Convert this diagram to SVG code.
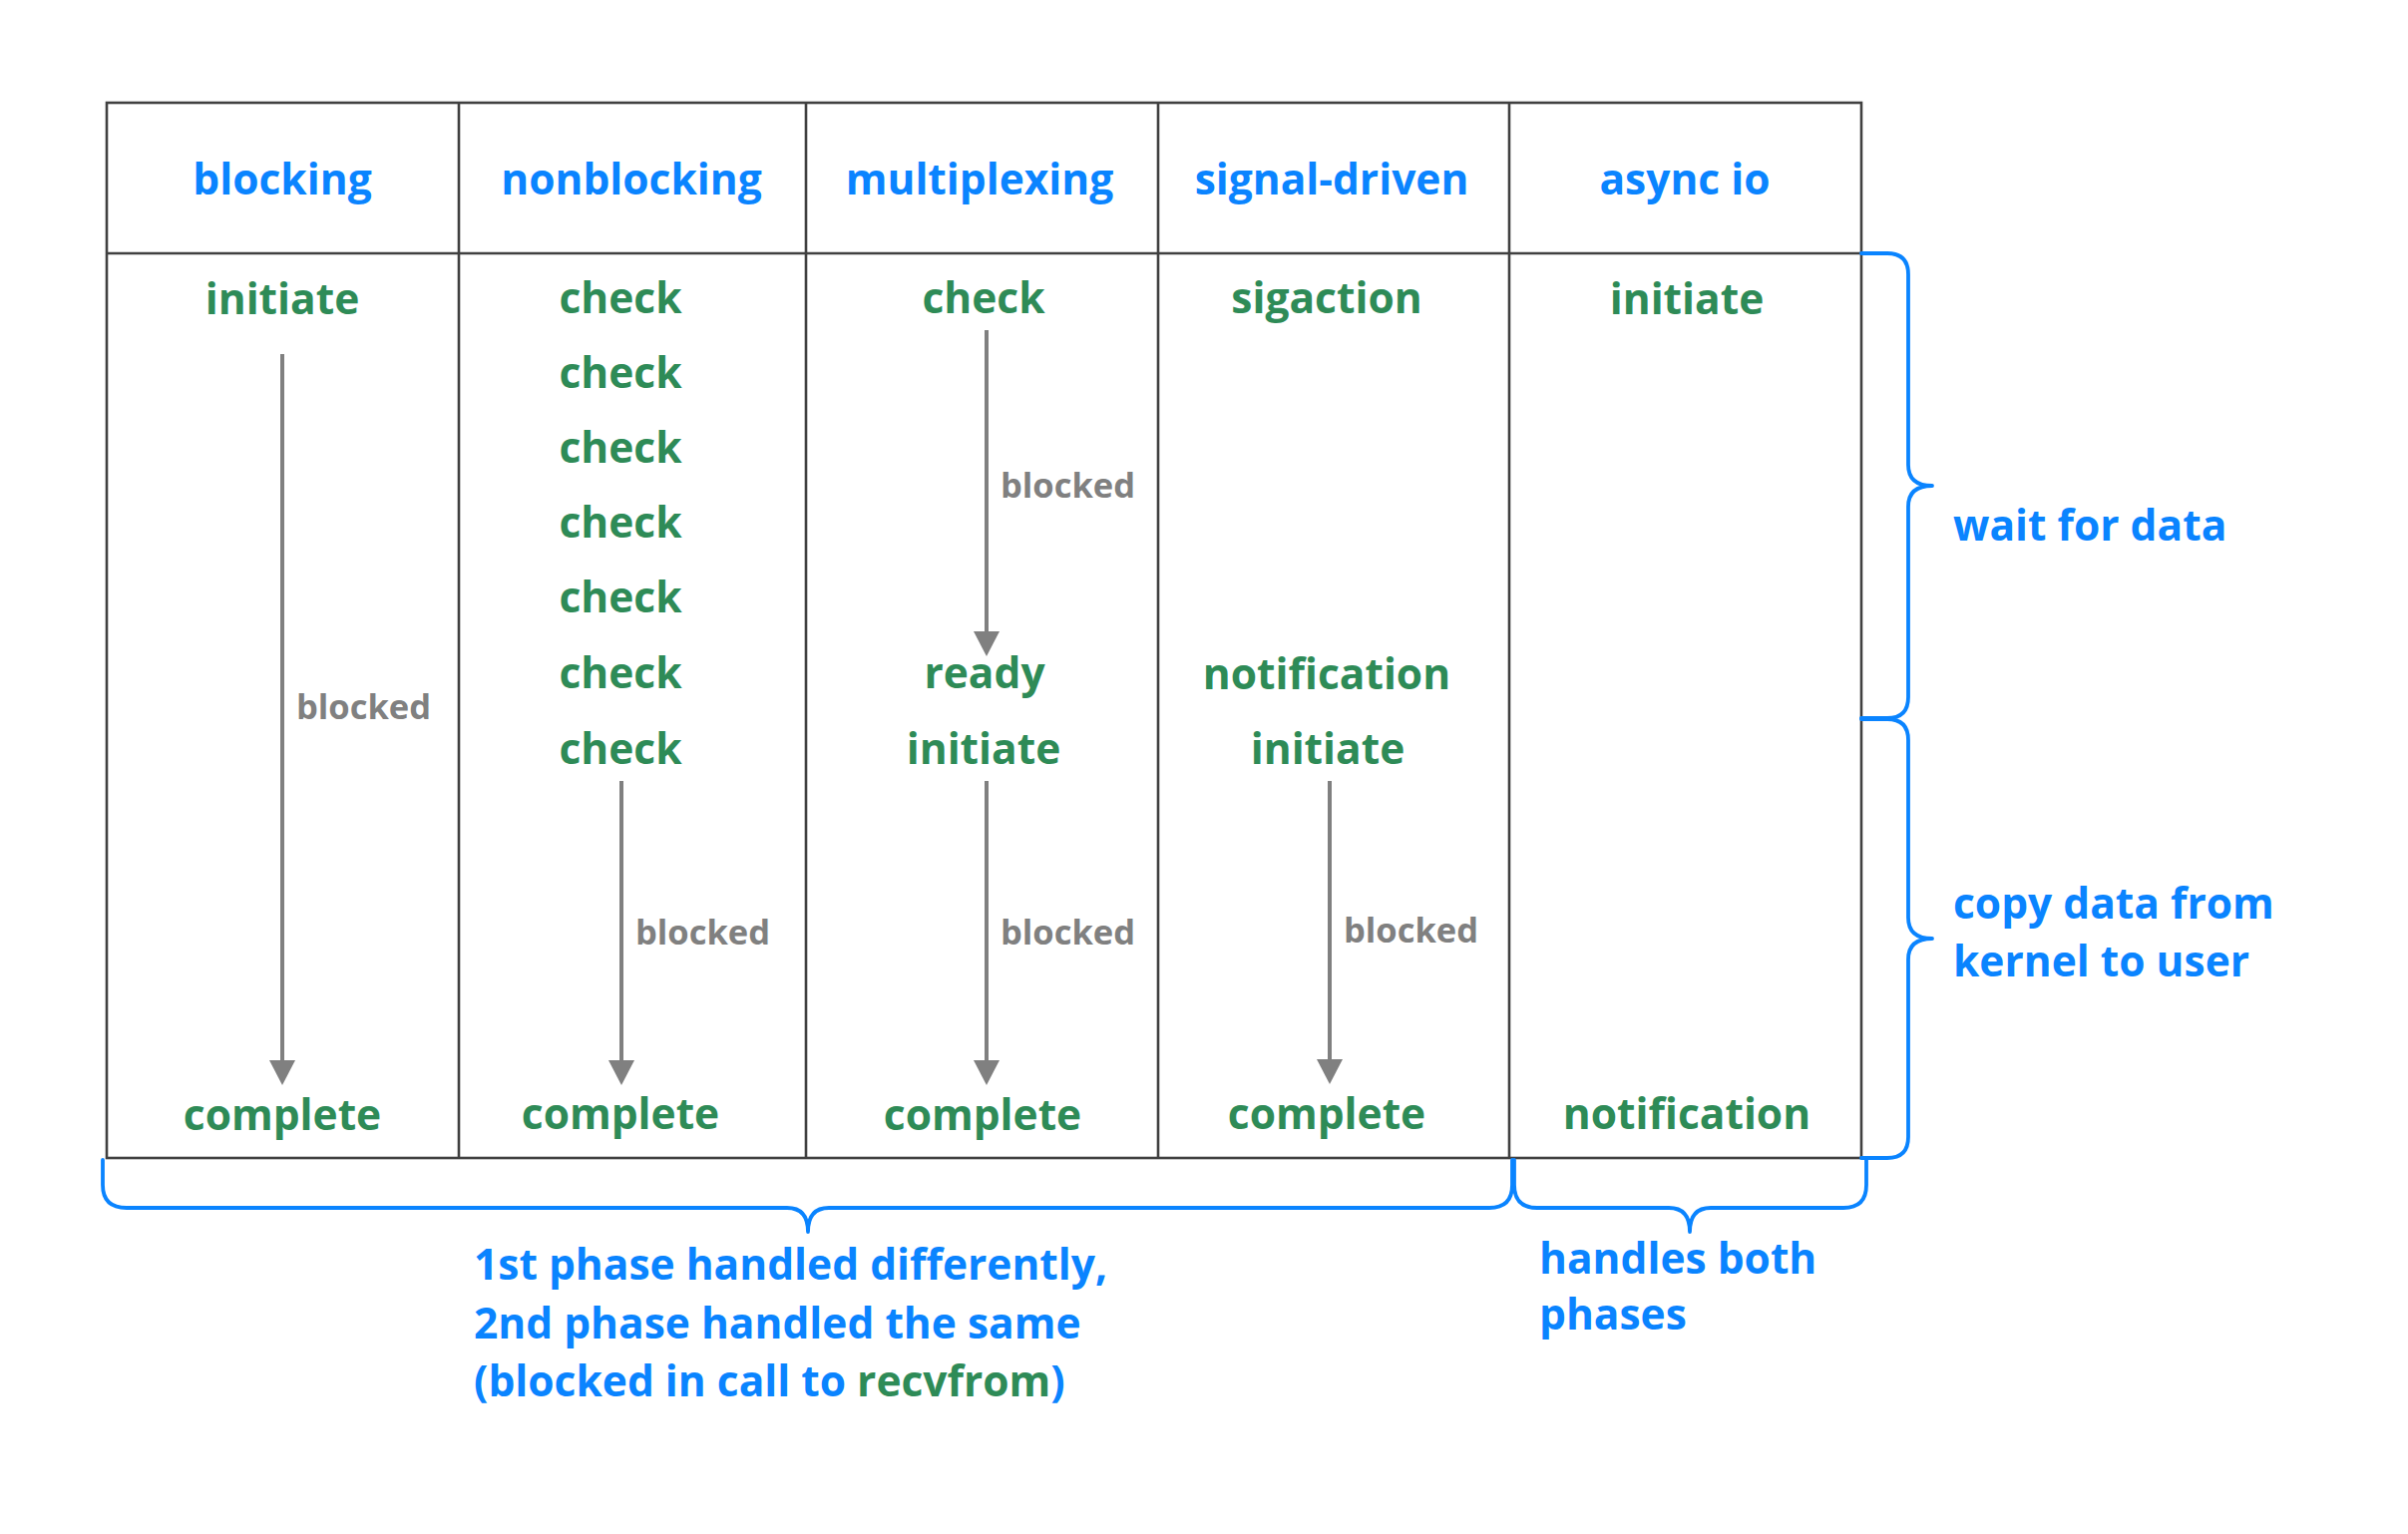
<svg xmlns="http://www.w3.org/2000/svg" width="2414" height="1538" viewBox="0 0 2414 1538">
  <style>
    text { font-family: "Open Sans", "Noto Sans", "Liberation Sans", sans-serif; font-weight: 700; }
    .hdr { fill: #0a84ff; font-size: 42.5px; text-anchor: middle; }
    .step { fill: #2e8b57; font-size: 42.5px; text-anchor: middle; }
    .blk { fill: #808080; font-size: 34.5px; }
    .note { fill: #0a84ff; font-size: 42.5px; }
    .green { fill: #2e8b57; }
    .grid { stroke: #404040; stroke-width: 2.6; fill: none; }
    .arrow { stroke: #808080; stroke-width: 4; fill: none; marker-end: url(#head); }
    .brace { stroke: #0a84ff; stroke-width: 3.8; fill: none; stroke-linecap: round; stroke-linejoin: round; }
  </style>
  <defs>
    <marker id="head" markerUnits="userSpaceOnUse" viewBox="0 0 25 26" markerWidth="25" markerHeight="26" refX="1" refY="13" orient="auto">
      <path d="M0,0 L25,13 L0,26 z" fill="#808080"/>
    </marker>
  </defs>
  <rect width="2414" height="1538" fill="#ffffff"/>

  <g id="table">
    <rect class="grid" x="107" y="103" width="1759" height="1058"/>
    <line class="grid" x1="107" y1="254" x2="1866" y2="254"/>
    <line class="grid" x1="460" y1="103" x2="460" y2="1161"/>
    <line class="grid" x1="808" y1="103" x2="808" y2="1161"/>
    <line class="grid" x1="1161" y1="103" x2="1161" y2="1161"/>
    <line class="grid" x1="1513" y1="103" x2="1513" y2="1161"/>
  </g>

  <g id="col-blocking">
    <text class="hdr" x="283" y="195">blocking</text>
    <text class="step" x="283" y="315">initiate</text>
    <text class="step" x="283" y="1133">complete</text>
    <text class="blk" x="297" y="721">blocked</text>
  </g>

  <g id="col-nonblocking">
    <text class="hdr" x="633" y="195">nonblocking</text>
    <text class="step" x="622" y="314">check</text>
    <text class="step" x="622" y="389">check</text>
    <text class="step" x="622" y="464">check</text>
    <text class="step" x="622" y="539">check</text>
    <text class="step" x="622" y="614">check</text>
    <text class="step" x="622" y="690">check</text>
    <text class="step" x="622" y="766">check</text>
    <text class="step" x="622" y="1132">complete</text>
    <text class="blk" x="637" y="947">blocked</text>
  </g>

  <g id="col-multiplexing">
    <text class="hdr" x="982" y="195">multiplexing</text>
    <text class="step" x="986" y="314">check</text>
    <text class="blk" x="1003" y="499">blocked</text>
    <text class="step" x="987" y="690">ready</text>
    <text class="step" x="986" y="766">initiate</text>
    <text class="blk" x="1003" y="947">blocked</text>
    <text class="step" x="985" y="1133">complete</text>
  </g>

  <g id="col-signal">
    <text class="hdr" x="1335" y="195">signal-driven</text>
    <text class="step" x="1330" y="314">sigaction</text>
    <text class="step" x="1330" y="691">notification</text>
    <text class="step" x="1331" y="766">initiate</text>
    <text class="blk" x="1347" y="945">blocked</text>
    <text class="step" x="1330" y="1132">complete</text>
  </g>

  <g id="col-async">
    <text class="hdr" x="1689" y="195">async io</text>
    <text class="step" x="1691" y="315">initiate</text>
    <text class="step" x="1691" y="1132">notification</text>
  </g>

  <g id="connectors">
    <line class="arrow" x1="283" y1="355" x2="283" y2="1064"/>
    <line class="arrow" x1="623" y1="783" x2="623" y2="1064"/>
    <line class="arrow" x1="989" y1="331" x2="989" y2="634"/>
    <line class="arrow" x1="989" y1="783" x2="989" y2="1064"/>
    <line class="arrow" x1="1333" y1="783" x2="1333" y2="1063"/>
  </g>

  <g id="braces">
    <path class="brace" d="M1866,254 H1892 Q1913,254 1913,275 V466 Q1913,487 1937,487 M1937,487 Q1913,487 1913,508 V699 Q1913,720 1892,720 H1866"/>
    <path class="brace" d="M1866,721 H1892 Q1913,721 1913,742 V920 Q1913,941 1937,941 M1937,941 Q1913,941 1913,962 V1140 Q1913,1161 1892,1161 H1866"/>
    <path class="brace" d="M103,1163 V1188 Q103,1211 127,1211 H789 Q810,1211 810,1235 M810,1235 Q810,1211 831,1211 H1493 Q1516,1211 1516,1188 V1163"/>
    <path class="brace" d="M1518,1163 V1188 Q1518,1211 1541,1211 H1673 Q1694,1211 1694,1235 M1694,1235 Q1694,1211 1715,1211 H1848 Q1871,1211 1871,1188 V1163"/>
  </g>

  <g id="labels">
    <text class="note" x="1958" y="542">wait for data</text>
    <text class="note" x="1958" y="921">copy data from</text>
    <text class="note" x="1958" y="979">kernel to user</text>
    <text class="note" x="475" y="1283">1st phase handled differently,</text>
    <text class="note" x="475" y="1342">2nd phase handled the same</text>
    <text class="note" x="475" y="1400">(blocked in call to <tspan class="green">recvfrom</tspan>)</text>
    <text class="note" x="1543" y="1277">handles both</text>
    <text class="note" x="1543" y="1333">phases</text>
  </g>
</svg>
